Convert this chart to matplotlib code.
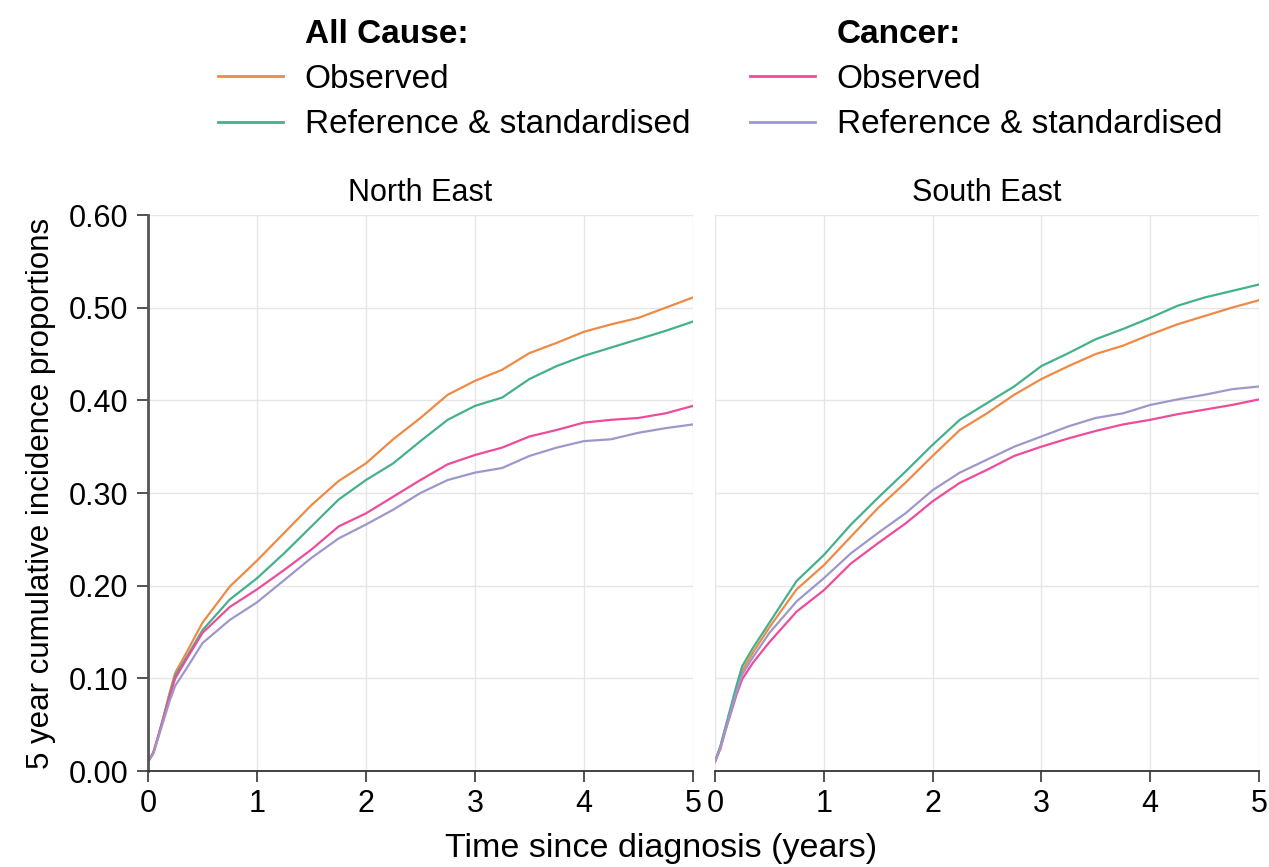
import matplotlib
matplotlib.use("Agg")
from matplotlib import pyplot as plt
from matplotlib.lines import Line2D
from matplotlib.ticker import FormatStrFormatter

# time points (years)
years = [0, 0.05, 0.1, 0.15, 0.2, 0.25, 0.35, 0.5, 0.75, 1, 1.25, 1.5, 1.75, 2,
         2.25, 2.5, 2.75, 3, 3.25, 3.5, 3.75, 4, 4.25, 4.5, 4.75, 5]

# North East
ne_all_obs = [0.010, 0.020, 0.040, 0.062, 0.085, 0.106, 0.127, 0.160, 0.199, 0.227, 0.257, 0.287,
              0.313, 0.332, 0.358, 0.381, 0.406, 0.421, 0.433, 0.451, 0.462, 0.474, 0.482, 0.489,
              0.500, 0.511]
ne_all_ref = [0.010, 0.020, 0.040, 0.061, 0.083, 0.103, 0.122, 0.152, 0.185, 0.208, 0.235, 0.264,
              0.293, 0.314, 0.332, 0.356, 0.379, 0.394, 0.403, 0.423, 0.437, 0.448, 0.457, 0.466,
              0.475, 0.485]
ne_can_obs = [0.010, 0.020, 0.040, 0.060, 0.081, 0.100, 0.120, 0.149, 0.177, 0.196, 0.217, 0.239,
              0.264, 0.278, 0.296, 0.314, 0.331, 0.341, 0.349, 0.361, 0.368, 0.376, 0.379, 0.381,
              0.386, 0.394]
ne_can_ref = [0.010, 0.019, 0.038, 0.057, 0.076, 0.092, 0.110, 0.138, 0.163, 0.182, 0.206, 0.230,
              0.251, 0.266, 0.282, 0.300, 0.314, 0.322, 0.327, 0.340, 0.349, 0.356, 0.358, 0.365,
              0.370, 0.374]

# South East
se_all_obs = [0.010, 0.026, 0.048, 0.069, 0.089, 0.108, 0.128, 0.155, 0.196, 0.222, 0.253, 0.284,
              0.311, 0.340, 0.368, 0.386, 0.406, 0.423, 0.437, 0.450, 0.459, 0.471, 0.482, 0.491,
              0.500, 0.508]
se_all_ref = [0.010, 0.027, 0.049, 0.071, 0.093, 0.113, 0.133, 0.160, 0.205, 0.233, 0.266, 0.295,
              0.323, 0.352, 0.379, 0.397, 0.415, 0.437, 0.451, 0.466, 0.477, 0.489, 0.502, 0.511,
              0.518, 0.525]
se_can_obs = [0.010, 0.024, 0.045, 0.064, 0.083, 0.099, 0.117, 0.139, 0.172, 0.195, 0.224, 0.246,
              0.267, 0.291, 0.311, 0.325, 0.340, 0.350, 0.359, 0.367, 0.374, 0.379, 0.385, 0.390,
              0.395, 0.401]
se_can_ref = [0.010, 0.025, 0.046, 0.066, 0.086, 0.104, 0.123, 0.149, 0.183, 0.208, 0.235, 0.257,
              0.278, 0.303, 0.322, 0.336, 0.350, 0.361, 0.372, 0.381, 0.386, 0.395, 0.401, 0.406,
              0.412, 0.415]

regions = ["North East", "South East"]
series = [
    [ne_all_obs, ne_all_ref, ne_can_obs, ne_can_ref],
    [se_all_obs, se_all_ref, se_can_obs, se_can_ref],
]

# orange, green, pink, purple
colors = ["#EE8A46", "#45B08C", "#EE4C9A", "#9C98CC"]

plt.rcParams['font.family'] = ['Liberation Sans', 'DejaVu Sans']

fig = plt.figure(figsize=(12.69, 8.67), dpi=100, facecolor='w')
ax1 = fig.add_axes([0.1166, 0.1107, 0.4294, 0.6413])
ax2 = fig.add_axes([0.5634, 0.1107, 0.4287, 0.6413])

for i, ax in enumerate([ax1, ax2]):
    for vals, c in zip(series[i], colors):
        ax.plot(years, vals, color=c, linewidth=1.6)
    ax.set_xlim(0, 5)
    ax.set_ylim(0, 0.6)
    ax.set_xticks(range(0, 6))
    ax.set_yticks([0, 0.1, 0.2, 0.3, 0.4, 0.5, 0.6])
    ax.grid(True, color='#e6e6e6', linewidth=1)
    ax.set_axisbelow(True)
    ax.spines['top'].set_visible(False)
    ax.spines['right'].set_visible(False)
    ax.spines['bottom'].set_color('#333333')
    ax.spines['bottom'].set_linewidth(1.3)
    ax.tick_params(axis='x', direction='out', length=8, width=1.2, color='#333333',
                   labelsize=22, pad=5)
    ax.set_title(regions[i], fontsize=22, pad=10)

ax1.spines['left'].set_color('#555555')
ax1.spines['left'].set_linewidth(2)
ax1.tick_params(axis='y', direction='out', length=8, width=1.2, color='#333333',
                labelsize=22, pad=6)
ax1.yaxis.set_major_formatter(FormatStrFormatter('%.2f'))
ax1.set_ylabel("5 year cumulative incidence proportions", fontsize=22.5, labelpad=9)

ax2.spines['left'].set_visible(False)
ax2.tick_params(axis='y', left=False, labelleft=False)

fig.text(0.521, 0.003, "Time since diagnosis (years)", fontsize=24.5, ha='center', va='bottom')

# legends
blank = Line2D([], [], linestyle='none')
h = [Line2D([], [], color=c, linewidth=2) for c in colors]
leg1 = fig.legend([blank, h[0], h[1]], ["All Cause:", "Observed", "Reference & standardised"],
                  loc='upper left', bbox_to_anchor=(0.148, 1.013), frameon=False, fontsize=24,
                  handlelength=1.95, handletextpad=0.66, labelspacing=0.43)
leg1.get_texts()[0].set_fontweight('bold')
leg2 = fig.legend([blank, h[2], h[3]], ["Cancer:", "Observed", "Reference & standardised"],
                  loc='upper left', bbox_to_anchor=(0.567, 1.013), frameon=False, fontsize=24,
                  handlelength=1.95, handletextpad=0.66, labelspacing=0.43)
leg2.get_texts()[0].set_fontweight('bold')

plt.savefig('out.png', dpi=100)
